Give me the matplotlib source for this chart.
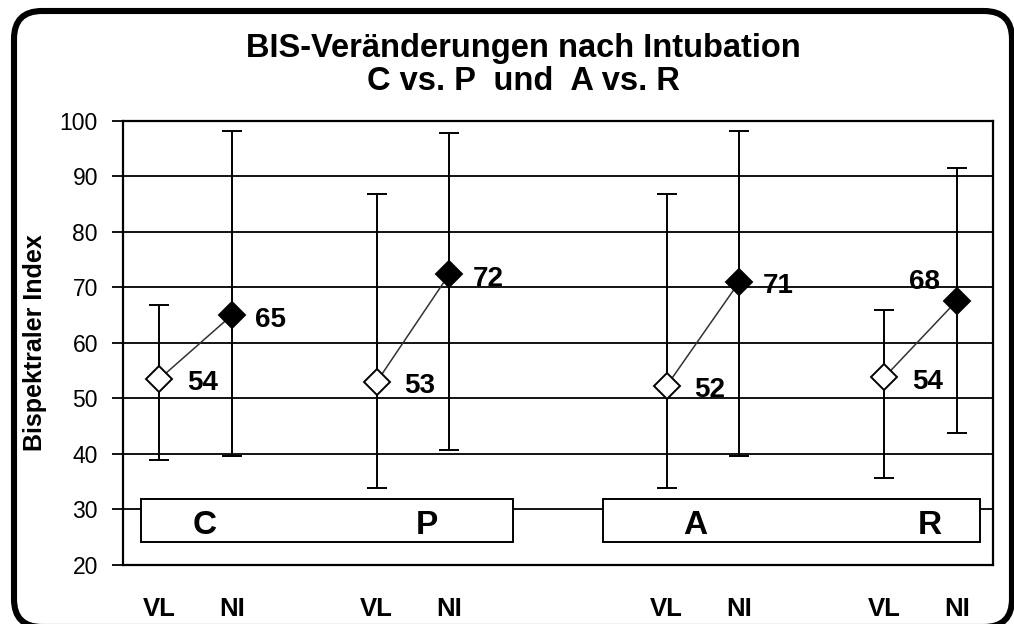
import matplotlib
matplotlib.use('Agg')
import matplotlib.pyplot as plt
from matplotlib.patches import FancyBboxPatch, Rectangle

plt.rcParams['font.family'] = ['Liberation Sans', 'DejaVu Sans']

# data
groups = ['C', 'P', 'A', 'R']
pos_vl = [0.5, 3.5, 7.5, 10.5]
pos_ni = [1.5, 4.5, 8.5, 11.5]
mean_vl = [53.5, 53.0, 52.3, 53.8]
mean_ni = [65.0, 72.4, 71.0, 67.6]
upper_vl = [66.8, 86.8, 86.8, 65.9]
lower_vl = [39.0, 33.8, 33.8, 35.6]
upper_ni = [98.2, 97.8, 98.2, 91.5]
lower_ni = [39.6, 40.7, 39.6, 43.7]
tick_names = ['VL', 'NI']

fig = plt.figure(figsize=(10.14, 6.24), dpi=100)

# rounded frame around the whole chart, in pixel coordinates
bg = fig.add_axes([0, 0, 1, 1], zorder=0)
bg.set_xlim(0, 1014)
bg.set_ylim(624, 0)
bg.axis('off')
bg.add_patch(FancyBboxPatch((14, 11), 998, 616,
                            boxstyle='round,pad=0,rounding_size=28',
                            fc='white', ec='black', lw=4.4))

ax = fig.add_axes([0.1213, 0.0946, 0.8580, 0.7115], zorder=1)
ax.set_xlim(0, 12)
ax.set_ylim(20, 100)
ax.set_yticks(range(20, 101, 10))
ax.yaxis.grid(True, color='black', lw=1.3)
ax.set_axisbelow(True)
for s in ax.spines.values():
    s.set_linewidth(1.6)
ax.tick_params(axis='y', direction='out', length=8, width=1.3, pad=10,
               labelsize=16.5)

xt = [x for pair in zip(pos_vl, pos_ni) for x in pair]
ax.set_xticks(xt)
ax.set_xticklabels(tick_names * len(groups), fontsize=18.5, fontweight='bold')
ax.tick_params(axis='x', length=0, pad=23)

ax.set_ylabel('Bispektraler Index', fontsize=18, fontweight='bold', labelpad=9)

# group boxes
box_spans = [(0.244, 5.38), (6.62, 11.82)]
for x0, x1 in box_spans:
    ax.add_patch(Rectangle((x0, 24.2), x1 - x0, 7.7, fc='white', ec='black',
                           lw=1.4, zorder=2))
box_label_x = [1.13, 4.19, 7.89, 11.13]
for x, g in zip(box_label_x, groups):
    ax.text(x, 25.5, g, fontsize=24, fontweight='bold', ha='center',
            va='baseline', zorder=3)

for i in range(len(groups)):
    ax.plot([pos_vl[i], pos_ni[i]], [mean_vl[i], mean_ni[i]], color='#333333',
            lw=1.1, zorder=3)
    ax.errorbar(pos_vl[i], mean_vl[i],
                yerr=[[mean_vl[i] - lower_vl[i]], [upper_vl[i] - mean_vl[i]]],
                fmt='none', ecolor='black', elinewidth=1.4, capsize=7,
                capthick=1.4, zorder=3)
    ax.errorbar(pos_ni[i], mean_ni[i],
                yerr=[[mean_ni[i] - lower_ni[i]], [upper_ni[i] - mean_ni[i]]],
                fmt='none', ecolor='black', elinewidth=1.4, capsize=7,
                capthick=1.4, zorder=3)
    ax.plot(pos_vl[i], mean_vl[i], 'D', ms=13.5, mfc='white', mec='black',
            mew=1.4, zorder=4)
    ax.plot(pos_ni[i], mean_ni[i], 'D', ms=13.5, mfc='black', mec='black',
            mew=1.4, zorder=4)
    ax.annotate(f'{mean_vl[i]:.0f}', (pos_vl[i], mean_vl[i]),
                xytext=(20, -1), textcoords='offset points', fontsize=20,
                fontweight='bold', va='center_baseline', ha='left', zorder=5)
    if i == 3:
        ax.annotate(f'{mean_ni[i]:.0f}', (pos_ni[i], mean_ni[i]),
                    xytext=(-12, 16), textcoords='offset points', fontsize=20,
                    fontweight='bold', va='center_baseline', ha='right', zorder=5)
    else:
        ax.annotate(f'{mean_ni[i]:.0f}', (pos_ni[i], mean_ni[i]),
                    xytext=(17, -1), textcoords='offset points', fontsize=20,
                    fontweight='bold', va='center_baseline', ha='left', zorder=5)

fig.text(0.516, 1 - 57 / 624, 'BIS-Veränderungen nach Intubation',
         ha='center', va='baseline', fontsize=23.5, fontweight='bold')
fig.text(0.516, 1 - 90 / 624, 'C vs. P  und  A vs. R',
         ha='center', va='baseline', fontsize=23.5, fontweight='bold')

fig.savefig('out.png', dpi=100)
